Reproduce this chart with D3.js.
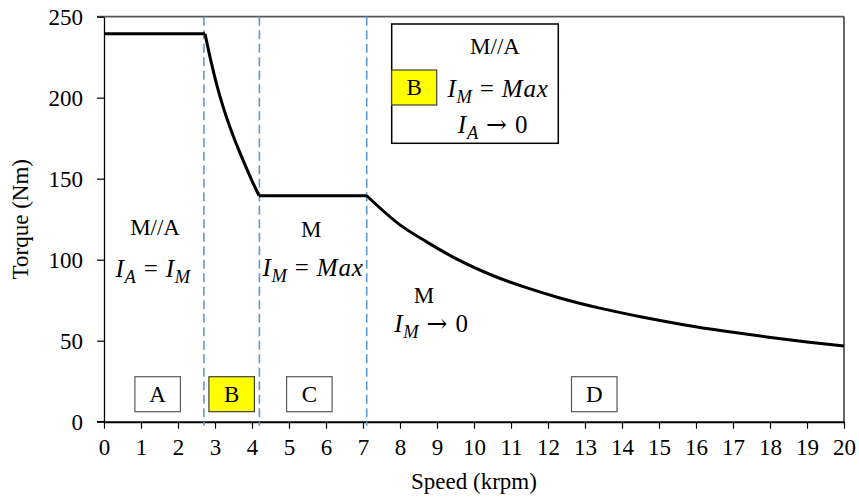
<!DOCTYPE html>
<html>
<head>
<meta charset="utf-8">
<script src="https://cdn.jsdelivr.net/npm/d3@7/dist/d3.min.js"></script>
<style>
  html, body { margin: 0; padding: 0; background: #fff; }
  svg { display: block; }
  text { font-family: "Liberation Serif", "Times New Roman", "DejaVu Serif", serif; fill: #000; }
</style>
</head>
<body>
<svg id="chart" width="859" height="497" font-family="Liberation Serif"></svg>
<script>
// Torque–speed envelope (speed in krpm, torque in Nm)
const speed  = [0, 2.73, 2.9, 3.05, 3.2, 3.35, 3.5, 3.65, 3.85, 4.0, 4.19, 7.1, 8.0, 8.72, 9.5, 10.52, 11.5, 12.32, 13.4, 14.5, 15.66, 16.8, 17.91, 19.0, 20.0];
const torque = [239.5, 239.5, 221.6, 207.8, 195.8, 185.3, 175.9, 167.3, 156.5, 148.7, 139.5, 139.5, 121.5, 111, 100.8, 90.1, 82.1, 76.4, 70.1, 64.8, 59.9, 55.8, 52.3, 49.2, 46.7];

// Operating-region boundaries (krpm)
const boundaries = [2.7, 4.2, 7.1];

// Region tag boxes along the bottom
const regionTags  = ["A", "B", "C", "D"];
const regionTagX  = [1.45, 3.45, 5.55, 13.25];
const regionTagHi = [false, true, false, false];

const xTicks = d3.range(0, 21, 1);
const yTicks = [0, 50, 100, 150, 200, 250];

const margin = { left: 104, right: 15, top: 16.7, bottom: 75.3 };
const W = 859, H = 497;
const svg = d3.select("#chart");

const x = d3.scaleLinear().domain([0, 20]).range([margin.left, W - margin.right]);
const y = d3.scaleLinear().domain([0, 250]).range([H - margin.bottom, margin.top]);

const FS = 23;   // plain labels
const MS = 25;   // math-style labels

// top gridline at 250
svg.append("line")
  .attr("x1", x(0) - 7).attr("x2", x(20))
  .attr("y1", y(250)).attr("y2", y(250))
  .attr("stroke", "#595959").attr("stroke-width", 1.8);

// right frame edge
svg.append("line")
  .attr("x1", x(20)).attr("x2", x(20))
  .attr("y1", y(250)).attr("y2", y(0))
  .attr("stroke", "#000").attr("stroke-width", 1.2);

// Y axis
const yAxis = svg.append("g")
  .attr("transform", `translate(${x(0)},0)`)
  .call(d3.axisLeft(y).tickValues(yTicks).tickSize(7).tickPadding(14).tickSizeOuter(0));
yAxis.attr("font-family", null).attr("font-size", null);
yAxis.select(".domain").attr("stroke", "#000").attr("stroke-width", 1.3);
yAxis.selectAll(".tick line").attr("stroke", "#000").attr("stroke-width", 1.2);
yAxis.selectAll(".tick text").attr("font-size", FS);

// X axis
const xAxis = svg.append("g")
  .attr("transform", `translate(0,${y(0)})`)
  .call(d3.axisBottom(x).tickValues(xTicks).tickSize(7).tickPadding(10).tickSizeOuter(0));
xAxis.attr("font-family", null).attr("font-size", null);
xAxis.select(".domain").attr("stroke", "#000").attr("stroke-width", 2);
xAxis.selectAll(".tick line").attr("stroke", "#000").attr("stroke-width", 1.2);
xAxis.selectAll(".tick text").attr("font-size", FS);
svg.append("line")
  .attr("x1", x(0) - 7).attr("x2", x(0))
  .attr("y1", y(0)).attr("y2", y(0))
  .attr("stroke", "#000").attr("stroke-width", 1.5);

// Axis titles
svg.append("text")
  .attr("x", (x(0) + x(20)) / 2).attr("y", 489)
  .attr("text-anchor", "middle").attr("font-size", FS)
  .text("Speed (krpm)");
svg.append("text")
  .attr("transform", `translate(28,${(y(0) + y(250)) / 2}) rotate(-90)`)
  .attr("text-anchor", "middle").attr("font-size", FS)
  .text("Torque (Nm)");

// Region boundaries
svg.selectAll("line.bound").data(boundaries).join("line")
  .attr("class", "bound")
  .attr("x1", d => x(d)).attr("x2", d => x(d))
  .attr("y1", y(250)).attr("y2", y(0) + 4)
  .attr("stroke", "#5B9BD5").attr("stroke-width", 1.6)
  .attr("stroke-dasharray", "9,4.5");

// Envelope curve: split into runs at the corners where a flat stretch
// meets a falling stretch, each run smoothed on its own
const pts = speed.map((s, i) => [s, torque[i]]);
const runs = [];
let cur = [pts[0]];
for (let i = 1; i < pts.length; i++) {
  cur.push(pts[i]);
  if (i < pts.length - 1) {
    const flatPrev = pts[i][1] === pts[i - 1][1];
    const flatNext = pts[i + 1][1] === pts[i][1];
    if (flatPrev !== flatNext) { runs.push(cur); cur = [pts[i]]; }
  }
}
runs.push(cur);
const line = d3.line().x(d => x(d[0])).y(d => y(d[1])).curve(d3.curveMonotoneX);
svg.append("path")
  .attr("d", runs.map(r => line(r)).join(""))
  .attr("fill", "none").attr("stroke", "#000").attr("stroke-width", 3)
  .attr("stroke-linejoin", "round");

// Region tags
const tagW = 45.5, tagH = 35;
const tags = svg.selectAll("g.tag").data(regionTags).join("g").attr("class", "tag")
  .attr("transform", (d, i) => `translate(${x(regionTagX[i]) - tagW / 2},${y(0) - 45})`);
tags.append("rect")
  .attr("width", tagW).attr("height", tagH)
  .attr("fill", (d, i) => regionTagHi[i] ? "#FFFF00" : "#fff")
  .attr("stroke", (d, i) => regionTagHi[i] ? "#404040" : "#595959").attr("stroke-width", 1.2);
tags.append("text")
  .attr("x", tagW / 2).attr("y", tagH / 2 + 8)
  .attr("text-anchor", "middle").attr("font-size", FS)
  .text(d => d);

// Math-style label: parts = [[text, italic, subscript, family], ...]
function mathText(g, cx, by, parts, fs) {
  const t = g.append("text").attr("x", cx).attr("y", by)
    .attr("text-anchor", "middle").attr("font-size", fs)
    .attr("letter-spacing", 0.8);
  let sub = false;
  parts.forEach(p => {
    const ts = t.append("tspan").text(p[0]);
    if (p[1]) ts.attr("font-style", "italic");
    if (p[3]) ts.attr("font-family", p[3]);
    if (p[2]) {
      ts.attr("font-size", fs * 0.74);
      if (!sub) { ts.attr("dy", 6); sub = true; }
    } else if (sub) { ts.attr("dy", -6); sub = false; }
  });
  return t;
}
const ARROW = "DejaVu Serif";

const notes = svg.append("g");
notes.append("text").attr("x", x(1.38)).attr("y", 235).attr("text-anchor", "middle")
  .attr("font-size", FS).text("M//A");
mathText(notes, x(1.33), 277, [["I", true], ["A", true, true], [" = ", false], ["I", true], ["M", true, true]], MS);

notes.append("text").attr("x", x(5.6)).attr("y", 237).attr("text-anchor", "middle")
  .attr("font-size", FS).text("M");
mathText(notes, x(5.65), 276, [["I", true], ["M", true, true], [" = ", false], ["Max", true]], MS);

notes.append("text").attr("x", x(8.65)).attr("y", 303).attr("text-anchor", "middle")
  .attr("font-size", FS).text("M");
mathText(notes, x(8.85), 332, [["I", true], ["M", true, true], [" ", false], ["\u2192", false, false, ARROW], [" 0", false]], MS);

// Inset legend box
const inset = svg.append("g");
inset.append("rect")
  .attr("x", 391.7).attr("y", 24).attr("width", 166.6).attr("height", 119.3)
  .attr("fill", "#fff").attr("stroke", "#000").attr("stroke-width", 1.5);
inset.append("rect")
  .attr("x", 391.7).attr("y", 70).attr("width", 45).attr("height", 35)
  .attr("fill", "#FFFF00").attr("stroke", "#404040").attr("stroke-width", 1.2);
inset.append("text").attr("x", 414.2).attr("y", 95).attr("text-anchor", "middle")
  .attr("font-size", FS).text("B");
inset.append("text").attr("x", 495).attr("y", 54).attr("text-anchor", "middle")
  .attr("font-size", FS).text("M//A");
mathText(inset, 498, 97, [["I", true], ["M", true, true], [" = ", false], ["Max", true]], MS);
mathText(inset, 493, 133, [["I", true], ["A", true, true], [" ", false], ["\u2192", false, false, ARROW], [" 0", false]], MS);
</script>
</body>
</html>
